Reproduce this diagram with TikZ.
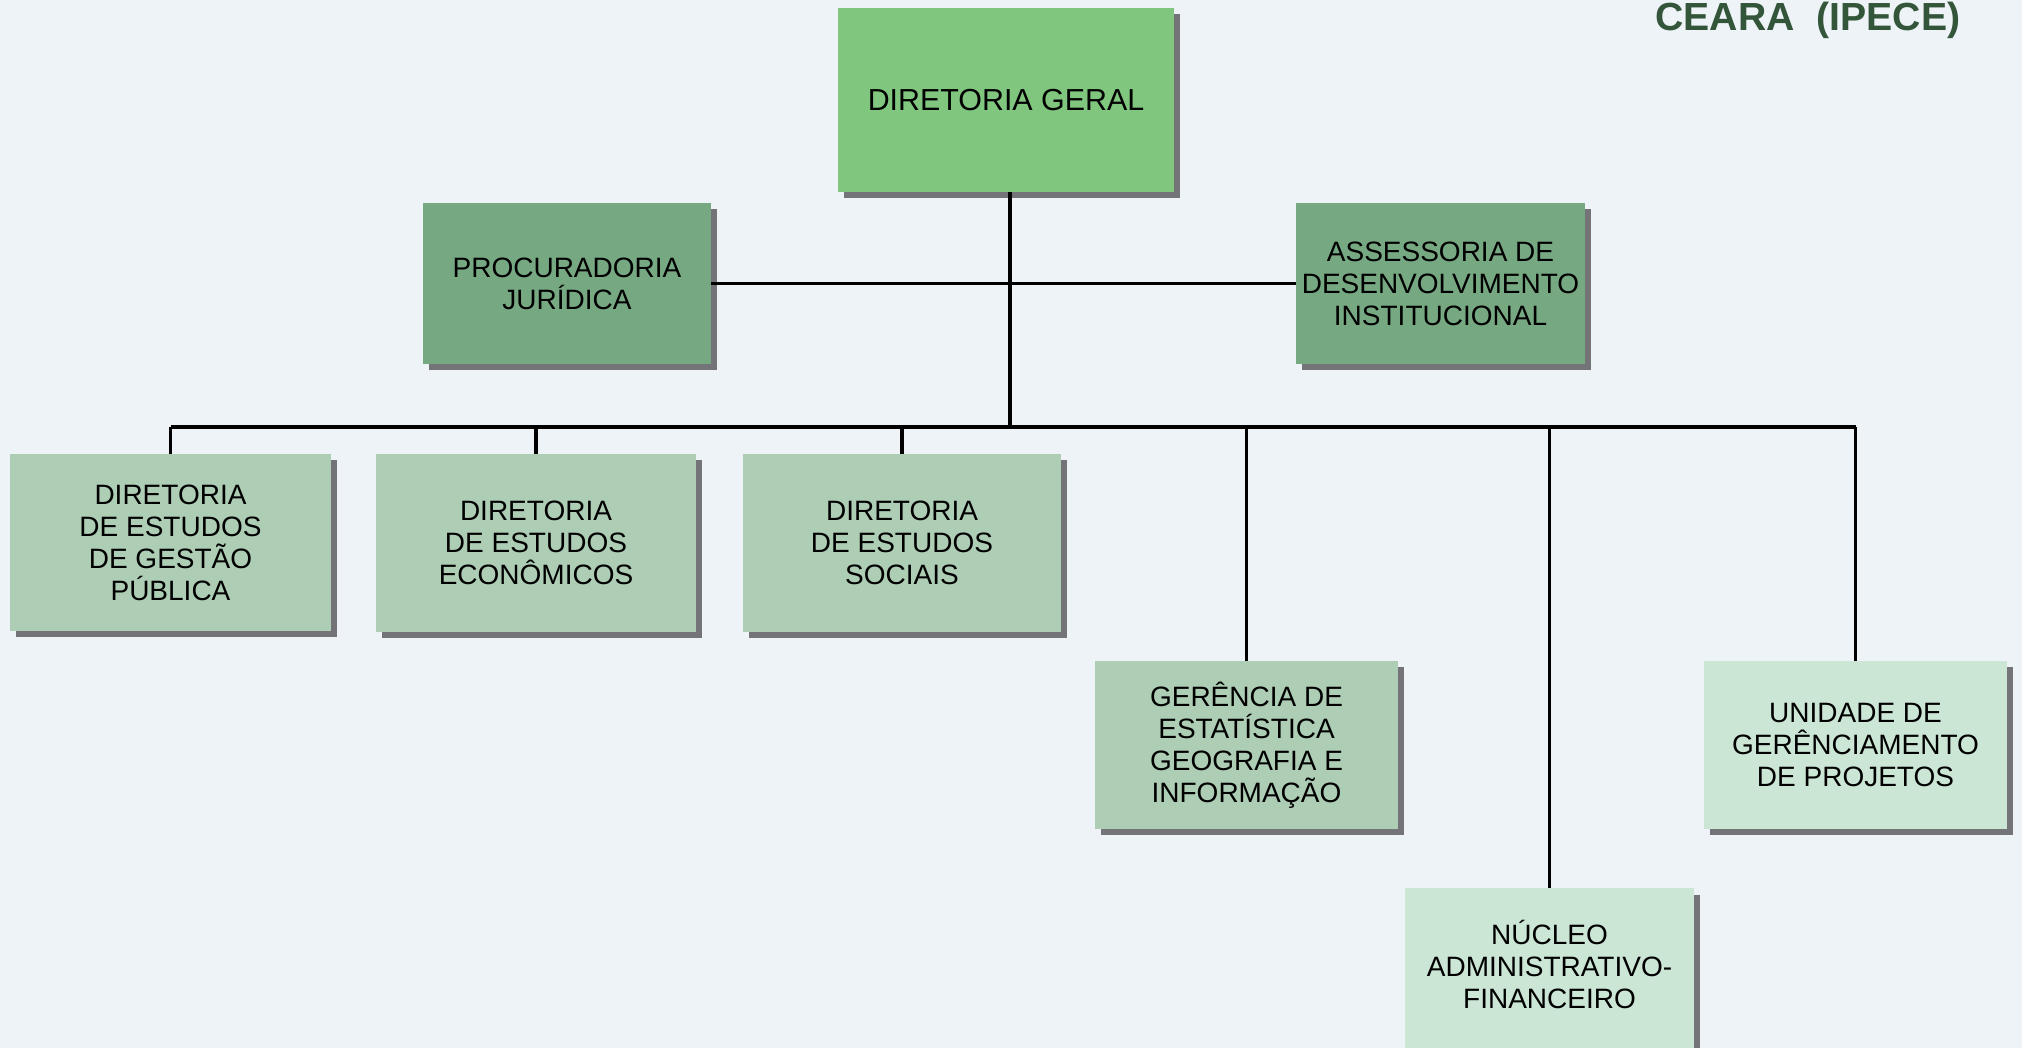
\documentclass[tikz,border=0pt]{standalone}
\usepackage{fontspec}
\setmainfont{Liberation Sans}
\usetikzlibrary{shadows}

\definecolor{fundo}{HTML}{EEF3F8}
\definecolor{verdeA}{HTML}{80C67F}
\definecolor{verdeB}{HTML}{76A882}
\definecolor{verdeC}{HTML}{ADCDB4}
\definecolor{verdeD}{HTML}{CCE6D6}
\definecolor{sombra}{HTML}{737378}
\definecolor{tituloverde}{HTML}{33553A}

\tikzset{
  caixa/.style={rectangle, inner sep=0pt, align=center, font=\fontsize{14pt}{16pt}\selectfont,
    general shadow={fill=sombra, shadow xshift=3.2pt, shadow yshift=-3.2pt}},
  ligacao/.style={draw=black, line width=1.6pt},
  titulo/.style={inner sep=0pt, text=tituloverde, font=\fontsize{19.6pt}{21pt}\selectfont\bfseries},
}

\begin{document}
\begin{tikzpicture}[x=0.5pt, y=-0.5pt]
\useasboundingbox (0,0) rectangle (2022,1048);
\fill[fundo] (0,0) rectangle (2022,1048);
\clip (0,0) rectangle (2022,1048);

% titulo (cortado no topo)
\node[titulo, anchor=base west] (tit) at (1655,31) {CEARA\ \ (IPECE)};

% direcao e assessorias
\node[caixa, fill=verdeA, minimum width=168pt, minimum height=92pt, font=\fontsize{15.2pt}{16pt}\selectfont] (dg) at (1006,100) {DIRETORIA GERAL};
\node[caixa, fill=verdeB, minimum width=144pt, minimum height=80.5pt] (pj) at (567,283.5) {PROCURADORIA\\JURÍDICA};
\node[caixa, fill=verdeB, minimum width=144.5pt, minimum height=80.5pt] (adi) at (1440.5,283.5) {ASSESSORIA DE\\DESENVOLVIMENTO\\INSTITUCIONAL};

% diretorias
\node[caixa, fill=verdeC, minimum width=160.5pt, minimum height=88.5pt] (degp) at (170.5,542.5) {DIRETORIA\\DE ESTUDOS\\DE GESTÃO\\PÚBLICA};
\node[caixa, fill=verdeC, minimum width=160pt, minimum height=89pt] (dee) at (536,543) {DIRETORIA\\DE ESTUDOS\\ECONÔMICOS};
\node[caixa, fill=verdeC, minimum width=159pt, minimum height=89pt] (des) at (902,543) {DIRETORIA\\DE ESTUDOS\\SOCIAIS};

% gerencias, nucleo e unidade
\node[caixa, fill=verdeC, minimum width=151.5pt, minimum height=84pt] (gegi) at (1246.5,745) {GERÊNCIA DE\\ESTATÍSTICA\\GEOGRAFIA E\\INFORMAÇÃO};
\node[caixa, fill=verdeD, minimum width=151.5pt, minimum height=84pt] (ugp) at (1855.5,745) {UNIDADE DE\\GERÊNCIAMENTO\\DE PROJETOS};
\node[caixa, fill=verdeD, anchor=north, minimum width=144.5pt, minimum height=95pt, text depth=19pt] (naf) at (1549.5,888) {NÚCLEO\\ADMINISTRATIVO-\\FINANCEIRO};

% ligacoes
\coordinate (bus) at (0,427);
\draw[ligacao] ([xshift=2pt]dg.south) -- ([xshift=2pt]dg.south |- bus);
\draw[ligacao] (pj.east) -- (adi.west);
\draw[ligacao] (degp.north |- bus) -- (ugp.north |- bus);
\foreach \c in {degp,dee,des,gegi,naf,ugp}
  \draw[ligacao] (\c.north |- bus) -- (\c.north);
\end{tikzpicture}
\end{document}
